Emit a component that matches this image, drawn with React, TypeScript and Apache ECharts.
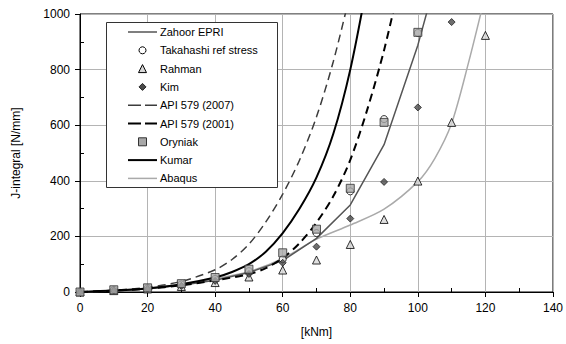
import React, { useEffect, useRef } from "react";
import * as echarts from "echarts";

// Bending moment [kNm] vs J-integral [N/mm]
const zahoorEpri: [number, number][] = [
  [0, 0], [10, 4], [20, 12], [30, 24], [40, 42], [50, 70], [60, 113],
  [70, 193], [80, 313], [90, 530], [100, 888], [110, 1330],
];
const takahashi: [number, number][] = [
  [0, 0], [10, 7], [20, 14], [30, 27], [40, 47], [50, 75], [60, 118],
  [70, 212], [80, 362], [90, 622], [100, 932],
];
const rahman: [number, number][] = [
  [0, 0], [10, 5], [20, 11], [30, 20], [40, 34], [50, 54], [60, 79],
  [70, 115], [80, 171], [90, 261], [100, 399], [110, 610], [120, 923],
];
const kim: [number, number][] = [
  [0, 0], [10, 6], [20, 12], [30, 22], [40, 40], [50, 65], [60, 105],
  [70, 163], [80, 264], [90, 396], [100, 664], [110, 971],
];
const api2007: [number, number][] = [
  [0, 0], [10, 6], [20, 17], [30, 38], [40, 80], [45, 117], [50, 172],
  [55, 252], [60, 352], [65, 475], [70, 630], [75, 830], [80, 1075],
];
const api2001: [number, number][] = [
  [0, 0], [10, 5], [20, 12], [30, 24], [40, 42], [50, 64], [55, 86],
  [60, 122], [65, 176], [70, 250], [75, 345], [80, 475], [85, 655],
  [90, 870], [95, 1130],
];
const oryniak: [number, number][] = [
  [0, 0], [10, 8], [20, 15], [30, 30], [40, 52], [50, 82], [60, 141],
  [70, 226], [80, 373], [90, 610], [100, 934],
];
const kumar: [number, number][] = [
  [0, 0], [10, 5], [20, 13], [30, 28], [40, 52], [45, 72], [50, 100],
  [55, 145], [60, 212], [65, 300], [70, 412], [75, 570], [80, 800],
  [85, 1110],
];
const abaqus: [number, number][] = [
  [0, 0], [10, 5], [20, 14], [30, 28], [40, 48], [50, 73], [60, 121],
  [70, 190], [80, 241], [90, 298], [100, 397], [105, 480], [110, 607],
  [115, 825], [120, 1070],
];

const FONT = "Liberation Sans, Arial, sans-serif";

type Entry =
  | { name: string; kind: "line"; color: string; width: number; dashed: boolean }
  | { name: string; kind: "mark"; symbol: string; fill: string; border: string; size: number };

const entries: Entry[] = [
  { name: "Zahoor EPRI", kind: "line", color: "#555555", width: 1.5, dashed: false },
  { name: "Takahashi ref stress", kind: "mark", symbol: "circle", fill: "#ffffff", border: "#000", size: 7 },
  { name: "Rahman", kind: "mark", symbol: "triangle", fill: "#d8d8d8", border: "#000", size: 8 },
  { name: "Kim", kind: "mark", symbol: "diamond", fill: "#4a4a4a", border: "#222", size: 7 },
  { name: "API 579 (2007)", kind: "line", color: "#3c3c3c", width: 1.5, dashed: true },
  { name: "API 579 (2001)", kind: "line", color: "#000000", width: 2, dashed: true },
  { name: "Oryniak", kind: "mark", symbol: "rect", fill: "#a8a8a8", border: "#333", size: 8 },
  { name: "Kumar", kind: "line", color: "#000000", width: 2, dashed: false },
  { name: "Abaqus", kind: "line", color: "#aaaaaa", width: 1.5, dashed: false },
];

function markGraphic(symbol: string, cx: number, cy: number, size: number, fill: string, border: string) {
  const style = { fill, stroke: border, lineWidth: 1 };
  const h = size / 2;
  if (symbol === "circle") return { type: "circle", shape: { cx, cy, r: h }, style };
  if (symbol === "rect") return { type: "rect", shape: { x: cx - h, y: cy - h, width: size, height: size }, style };
  if (symbol === "diamond")
    return { type: "polygon", shape: { points: [[cx, cy - h], [cx + h, cy], [cx, cy + h], [cx - h, cy]] }, style };
  return { type: "polygon", shape: { points: [[cx, cy - h], [cx + h, cy + h], [cx - h, cy + h]] }, style };
}

function legendGraphics() {
  const box = { x: 106, y: 22, w: 171, h: 165 };
  const x0 = 128;
  const x1 = 157;
  const out: any[] = [
    {
      type: "rect",
      shape: { x: box.x + 0.5, y: box.y + 0.5, width: box.w, height: box.h },
      style: { fill: "#fff", stroke: "#333", lineWidth: 1 },
      z: 100,
    },
  ];
  entries.forEach((e, i) => {
    const cy = 32 + i * 18.3;
    if (e.kind === "line") {
      out.push({
        type: "line",
        shape: { x1: x0, y1: cy, x2: x1, y2: cy },
        style: { stroke: e.color, lineWidth: e.width, lineDash: e.dashed ? [13, 4] : null },
        z: 101,
      });
    } else {
      out.push({ ...markGraphic(e.symbol, (x0 + x1) / 2, cy, e.size, e.fill, e.border), z: 101 });
    }
    out.push({
      type: "text",
      x: 160,
      y: cy,
      style: { text: e.name, fill: "#000", font: `11px ${FONT}`, verticalAlign: "middle", align: "left" },
      z: 101,
    });
  });
  return out;
}

export default function App() {
  const ref = useRef<HTMLDivElement>(null);

  useEffect(() => {
    if (!ref.current) return;
    const chart = echarts.init(ref.current, undefined, { renderer: "svg" });

    const styleOf = (name: string) => entries.find((e) => e.name === name) as any;

    const lineSeries = (name: string, data: [number, number][], smooth: boolean | number) => {
      const e = styleOf(name);
      return {
        name,
        type: "line",
        data,
        smooth,
        symbol: "none",
        clip: true,
        lineStyle: { color: e.color, width: e.width, type: e.dashed ? [8, 5] : "solid" },
        itemStyle: { color: e.color },
        z: 2,
      };
    };

    const scatterSeries = (name: string, data: [number, number][]) => {
      const e = styleOf(name);
      return {
        name,
        type: "scatter",
        data,
        symbol: e.symbol,
        symbolSize: e.size,
        itemStyle: { color: e.fill, borderColor: e.border, borderWidth: 1 },
        z: 3,
      };
    };

    const axisCommon = {
      axisLine: { show: true, lineStyle: { color: "#000", width: 1 } },
      axisTick: { show: true, inside: false, length: 5, lineStyle: { color: "#000" } },
      minorTick: { show: true, splitNumber: 2, length: -4, lineStyle: { color: "#000" } },
      axisLabel: {
        fontSize: 12,
        color: "#000",
        margin: 10,
        fontFamily: FONT,
        formatter: (v: number) => String(v),
      },
      splitLine: { show: true, lineStyle: { color: "#b4b4b4", width: 1 } },
      nameTextStyle: { fontSize: 12, color: "#000", fontFamily: FONT },
    };

    chart.setOption({
      animation: false,
      textStyle: { fontFamily: FONT },
      grid: {
        left: 80,
        right: 13,
        top: 14,
        bottom: 52,
        show: true,
        borderColor: "#000",
        borderWidth: 1,
        backgroundColor: "transparent",
      },
      xAxis: {
        type: "value",
        min: 0,
        max: 140,
        interval: 20,
        name: "[kNm]",
        nameLocation: "middle",
        nameGap: 34,
        ...axisCommon,
      },
      yAxis: {
        type: "value",
        min: 0,
        max: 1000,
        interval: 200,
        name: "J-integral [N/mm]",
        nameLocation: "middle",
        nameGap: 58,
        nameRotate: 90,
        ...axisCommon,
      },
      graphic: legendGraphics(),
      series: [
        lineSeries("Abaqus", abaqus, 0.3),
        lineSeries("Zahoor EPRI", zahoorEpri, false),
        lineSeries("API 579 (2007)", api2007, 0.3),
        lineSeries("API 579 (2001)", api2001, 0.3),
        lineSeries("Kumar", kumar, 0.3),
        scatterSeries("Takahashi ref stress", takahashi),
        scatterSeries("Rahman", rahman),
        scatterSeries("Kim", kim),
        scatterSeries("Oryniak", oryniak),
      ],
    });

    return () => chart.dispose();
  }, []);

  return (
    <div
      ref={ref}
      style={{ position: "fixed", left: 0, top: 0, width: 566, height: 344, background: "#fff" }}
    />
  );
}
